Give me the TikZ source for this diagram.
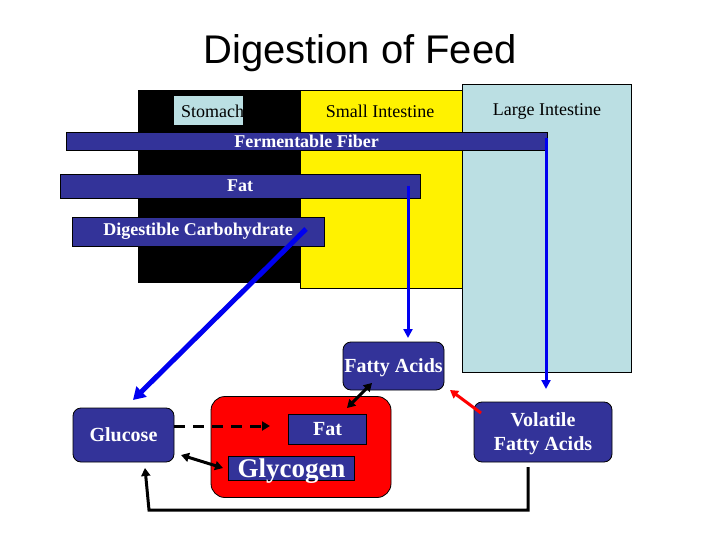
\documentclass[tikz,border=0pt]{standalone}
\usepackage{fontspec}
\setmainfont{Liberation Serif}
\setsansfont{Liberation Sans}
\usetikzlibrary{arrows.meta}
\definecolor{barblue}{RGB}{51,51,153}
\definecolor{lightblue}{RGB}{187,223,227}
\definecolor{arrowblue}{RGB}{0,0,240}
\definecolor{redfill}{RGB}{255,0,0}
\tikzset{
  organ/.style={draw=black, line width=0.8pt, inner sep=0pt, anchor=center},
  bar/.style={draw=black, line width=0.6pt, fill=barblue, text=white, inner sep=0pt,
    font=\fontsize{18}{20}\selectfont\bfseries},
  rbox/.style={bar, rounded corners=8pt, line width=0.8pt, font=\fontsize{20}{24}\selectfont\bfseries, text depth=0pt},
  lbl/.style={font=\fontsize{18}{20}\selectfont, inner sep=0pt},
  bluearr/.style={draw=arrowblue, line width=3pt, -{Triangle[length=9pt,width=9pt]}},
  blkarr/.style={draw=black, line width=3pt, -{Triangle[length=8pt,width=9pt]}},
  dblarr/.style={draw=black, line width=3pt, {Triangle[length=8pt,width=9pt]}-{Triangle[length=8pt,width=9pt]}},
}
\begin{document}
\begin{tikzpicture}[x=1pt,y=-1pt]
\useasboundingbox (0,0) rectangle (720,540);
% title
\node[font=\sffamily\fontsize{40}{44}\selectfont, inner sep=0pt] (title) at (360,53) {Digestion of Feed};
% organs
\node[organ, fill=black, minimum width=162pt, minimum height=192pt] (stomach) at (219,186) {};
\node[organ, fill=yellow, minimum width=162pt, minimum height=198pt] (small) at (381,189) {};
\node[organ, fill=lightblue, minimum width=169pt, minimum height=288pt] (large) at (546.5,228) {};
\node[lbl, fill=lightblue, minimum width=69pt, minimum height=29pt] (stomachbox) at (208.5,110.5) {};
\node[lbl, anchor=west] (stomachlbl) at (181,111) {Stomach};
\node[lbl] (smalllbl) at (380,111) {Small Intestine};
\node[lbl] (largelbl) at (547,111) {Large Intestine};
% bars
\node[bar, minimum width=481pt, minimum height=18pt] (fiber) at (306.5,141.5) {Fermentable Fiber};
\node[bar, minimum width=360pt, minimum height=24pt] (fat) at (240,186) {Fat};
\node[bar, minimum width=252pt, minimum height=29pt] (carb) at (198,231.5) {Digestible Carbohydrate};
% lower boxes
\node[rbox, minimum width=101pt, minimum height=48pt] (fa) at (393.5,366) {Fatty Acids};
\node[rbox, minimum width=101pt, minimum height=54pt] (glucose) at (123.5,435) {Glucose};
\node[draw=black, line width=0.8pt, fill=redfill, rounded corners=14pt, minimum width=180pt, minimum height=101pt, inner sep=0pt] (body) at (301,447) {};
\node[bar, font=\fontsize{20}{24}\selectfont\bfseries, text depth=0pt, minimum width=78pt, minimum height=30pt] (fatbox) at (327.5,429) {Fat};
\node[bar, minimum width=126pt, minimum height=24pt] (glybox) at (291.5,468) {};
\node[text=white, inner sep=0pt, font=\fontsize{27}{27}\selectfont\bfseries, anchor=base] (glycogen) at (291.5,477) {Glycogen};
\node[rbox, minimum width=138pt, minimum height=60pt, align=center] (vfa) at (543,432) {Volatile\\Fatty Acids};
% arrow end points
\coordinate (fiberstart) at (546,138);
\coordinate (vfain) at (546,389);
\coordinate (fatstart) at (408,186);
\coordinate (fain) at (408,338);
\coordinate (carbstart) at (306,229);
\coordinate (glucosein) at (133,400);
\coordinate (faout) at (372,383);
\coordinate (fatin) at (347,408);
\coordinate (gluout) at (174,426);
\coordinate (dashend) at (270,426);
\coordinate (gluglyA) at (181,455);
\coordinate (gluglyB) at (223,468);
\coordinate (vfaout) at (481,413);
\coordinate (fared) at (450,390);
\coordinate (vfabottom) at (528,467);
\coordinate (glubottom) at (145,468);
% arrows
\draw[bluearr] (fiberstart) -- (vfain);
\draw[bluearr] (fatstart) -- (fain);
\draw[bluearr, line width=5pt, -{Triangle[length=12pt,width=14pt]}] (carbstart) -- (glucosein);
\draw[dblarr] (faout) -- (fatin);
\draw[blkarr, dash pattern=on 11pt off 8pt] (gluout) -- (dashend);
\draw[dblarr] (gluglyA) -- (gluglyB);
\draw[blkarr, draw=red, -{Triangle[length=8pt,width=9pt]}] (vfaout) -- (fared);
\draw[blkarr] (vfabottom) -- (528,510) -- (149,510) -- (glubottom);
\end{tikzpicture}
\end{document}
